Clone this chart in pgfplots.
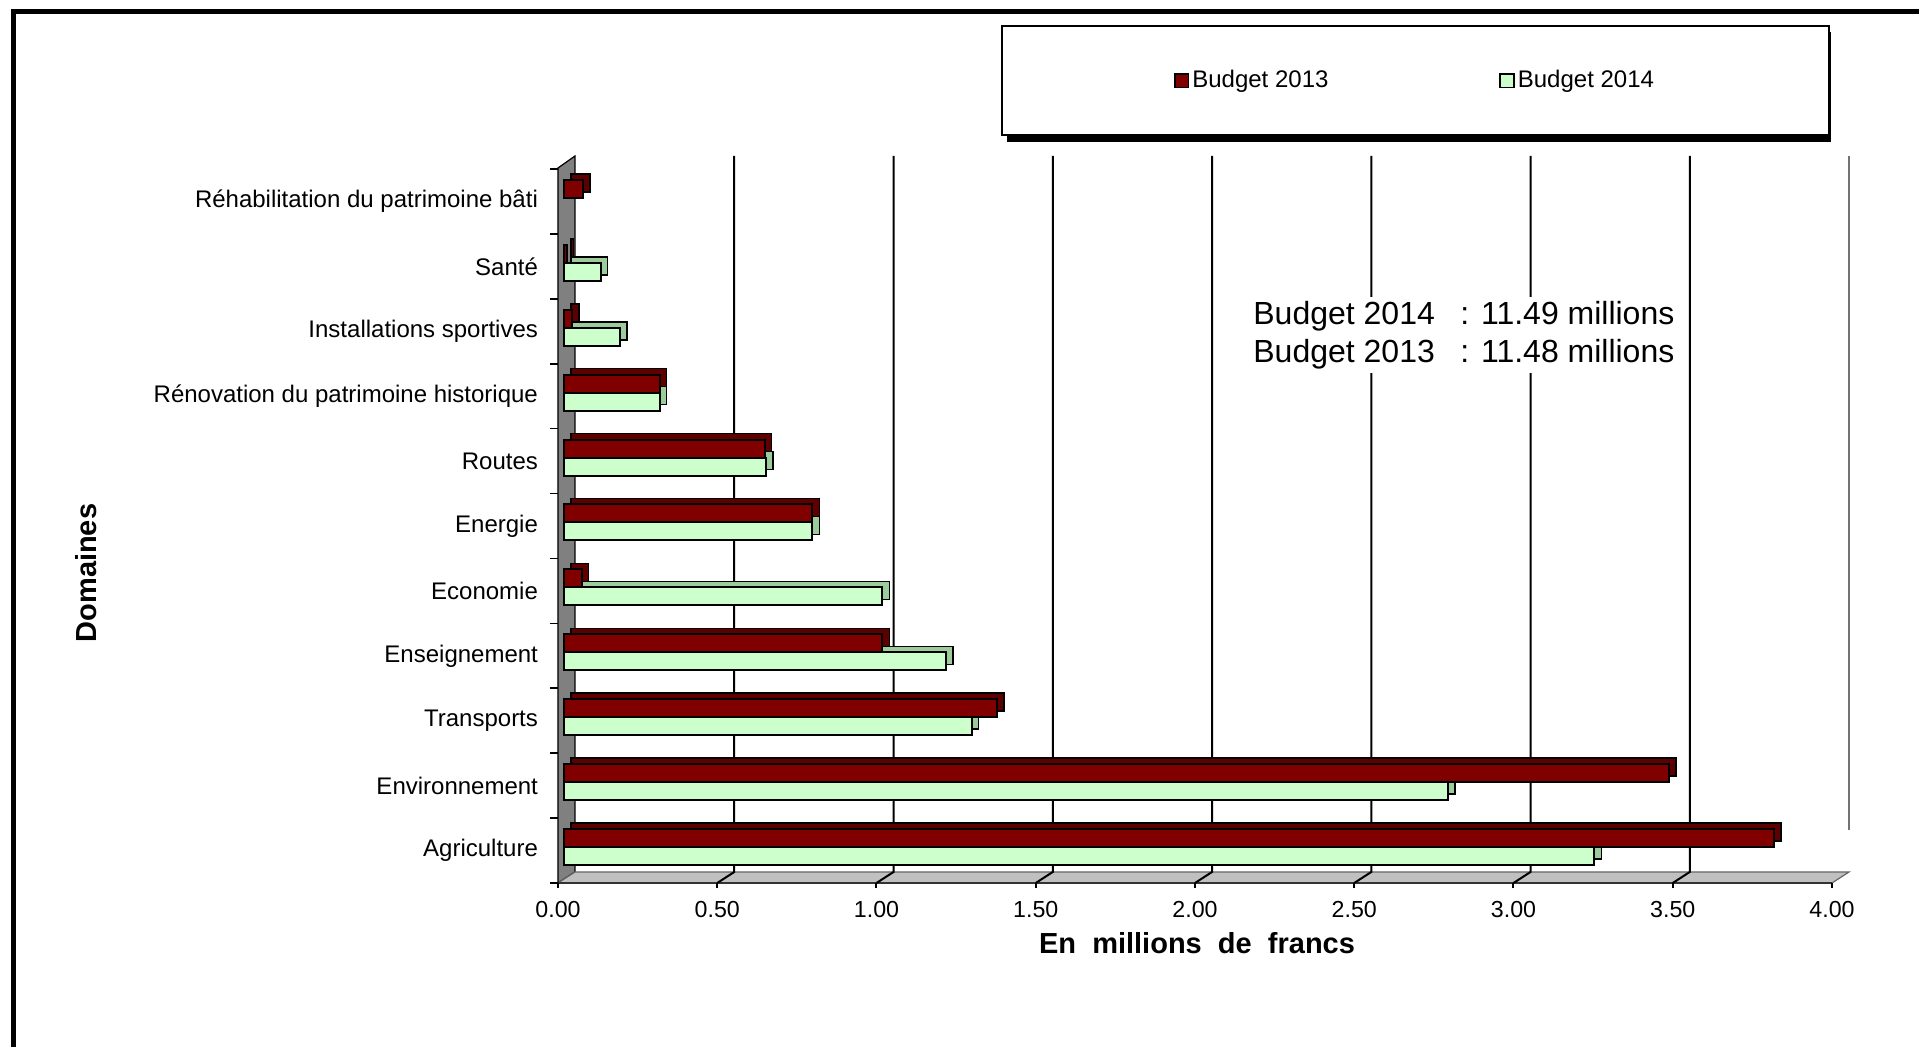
\documentclass[border=0pt]{standalone}
\usepackage{fontspec}
\setmainfont{Liberation Sans}
\usepackage{pgfplots}
\pgfplotsset{compat=1.18}
\definecolor{rf}{HTML}{800000}
\definecolor{rd}{HTML}{5E0000}
\definecolor{gf}{HTML}{CCFFCC}
\definecolor{gd}{HTML}{9CCB9C}
\definecolor{wallgray}{HTML}{808080}
\definecolor{floorgray}{HTML}{C0C0C0}
\begin{document}
\begin{tikzpicture}
% outer frame (left and top edges)
\draw[line width=2.5pt, line join=miter] (-272pt,-100pt) -- (-272pt,435.5pt) -- (700pt,435.5pt);
% legend shadow
\fill[black] (224.5pt,425.5pt) rectangle (636.5pt,370.5pt);
% wall and floor
\filldraw[fill=wallgray, draw=black, line width=0.6pt] (0pt,0pt) -- (0pt,357.5pt) -- (8.5pt,363.5pt) -- (8.5pt,5.5pt) -- cycle;
\filldraw[fill=floorgray, draw=black!60, line width=0.6pt] (0pt,0pt) -- (637pt,0pt) -- (645.5pt,5.5pt) -- (8.5pt,5.5pt) -- cycle;
\draw[line width=1pt, black!80] (0pt,0pt) -- (637pt,0pt);
% grid lines on the back plane
\foreach \k in {1,...,7} {
  \draw[line width=1pt] ({79.625*\k*1pt},0pt) -- ({79.625*\k*1pt+8.5pt},5.5pt) -- ({79.625*\k*1pt+8.5pt},363.5pt);
}
\draw[line width=0.8pt, black!55] (645.5pt,26.5pt) -- (645.5pt,363.5pt);
\begin{axis}[name=ax, at={(0pt,0pt)}, anchor=south west,
  scale only axis, width=637pt, height=357pt,
  xmin=0, xmax=4, ymin=-0.5, ymax=10.5,
  xbar, bar width=9pt,
  clip=false,
  axis line style={draw=none},
  tick align=outside,
  xtick pos=bottom, ytick pos=left,
  xtick={0,0.5,1,1.5,2,2.5,3,3.5,4},
  /pgf/number format/fixed, /pgf/number format/fixed zerofill, /pgf/number format/precision=2, /pgf/number format/assume math mode=true,
  xticklabel style={font=\fontsize{11.6}{13}\selectfont, yshift=-3pt},
  yticklabel style={font=\fontsize{12}{14}\selectfont, xshift=-4pt},
  major tick length=2.5pt,
  minor tick length=4pt,
  major x tick style={black, line width=1pt},
  major y tick style={draw=none},
  minor y tick style={black, line width=0.8pt},
  ytick={0,...,10},
  minor ytick={-0.5,0.5,...,10.5},
  yticklabels={Agriculture, Environnement, Transports, Enseignement, Economie, Energie, Routes, Rénovation du patrimoine historique, Installations sportives, Santé, Réhabilitation du patrimoine bâti},
  xlabel={En\ \ millions\ \ de\ \ francs},
  ylabel={Domaines},
  x label style={at={(axis description cs:0.5016,-0.084)}, anchor=center, font=\bfseries\fontsize{14.5}{16}\selectfont},
  y label style={at={(axis description cs:-0.3705,0.434)}, anchor=center, font=\bfseries\fontsize{14.5}{16}\selectfont},
  legend style={at={(0.3477,1.2017)}, anchor=north west, draw=black, line width=1pt, fill=white,
    legend columns=2, font=\fontsize{12}{14}\selectfont,
    inner xsep=86pt, inner ysep=20.25pt,
    /tikz/every even column/.append style={column sep=84pt},
    nodes={inner xsep=1.5pt}},
  legend image code/.code={\draw[#1, xshift=-3pt, yshift=-1.75pt, draw=black, line width=0.9pt] (0pt,-3.4pt) rectangle (6.8pt,3.4pt);},
]
% depth faces (shifted copies)
\addplot[forget plot, fill=rd, draw=black, line width=0.8pt, bar shift=4.5pt, xshift=6.5pt, yshift=4.75pt] coordinates {
(3.80,0) (3.47,1) (1.36,2) (1.00,3) (0.055,4) (0.78,5) (0.63,6) (0.30,7) (0.025,8) (0.008,9) (0.06,10)};
\addplot[forget plot, fill=gd, draw=black, line width=0.8pt, bar shift=-4.5pt, xshift=6.5pt, yshift=4.75pt] coordinates {
(3.235,0) (2.775,1) (1.28,2) (1.20,3) (1.00,4) (0.78,5) (0.635,6) (0.30,7) (0.175,8) (0.115,9)};
% front faces
\addplot[fill=rf, draw=black, line width=1pt, bar shift=4.5pt, xshift=3pt, yshift=1.75pt] coordinates {
(3.80,0) (3.47,1) (1.36,2) (1.00,3) (0.055,4) (0.78,5) (0.63,6) (0.30,7) (0.025,8) (0.008,9) (0.06,10)};
\addlegendentry{Budget 2013}
\addplot[fill=gf, draw=black, line width=1pt, bar shift=-4.5pt, xshift=3pt, yshift=1.75pt] coordinates {
(3.235,0) (2.775,1) (1.28,2) (1.20,3) (1.00,4) (0.78,5) (0.635,6) (0.30,7) (0.175,8) (0.115,9)};
\addlegendentry{Budget 2014}
\end{axis}
% summary text
\node[fill=white, anchor=west, inner sep=2pt, align=left, font=\fontsize{16}{19}\selectfont] at (345.5pt,274pt)
  {\makebox[103.5pt][l]{Budget 2014}: 11.49 millions\\ \makebox[103.5pt][l]{Budget 2013}: 11.48 millions};
\pgfresetboundingbox
\path[use as bounding box] (-279pt,-82pt) rectangle (680.5pt,441.5pt);
\end{tikzpicture}
\end{document}
